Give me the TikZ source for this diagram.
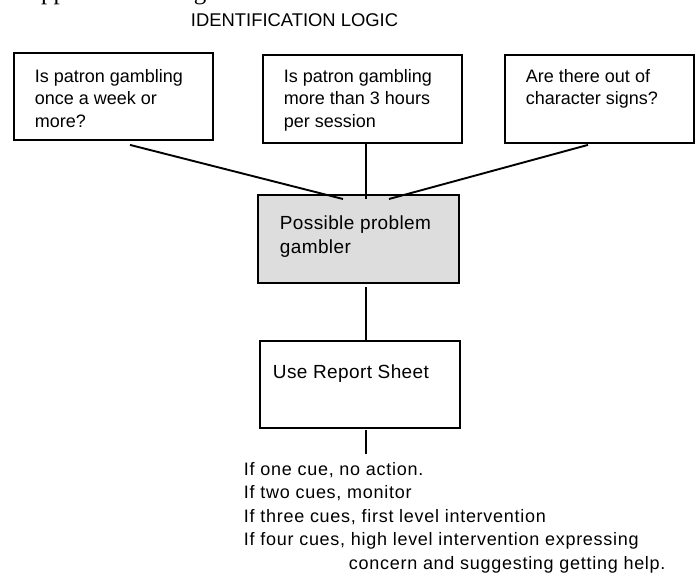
\documentclass[tikz,border=0pt]{standalone}
\usepackage{fontspec}
\setmainfont{Liberation Sans}
\newfontfamily\serifhead{Liberation Serif}
\newfontfamily\spacedA[LetterSpace=2]{Liberation Sans}
\newfontfamily\spacedB[LetterSpace=4]{Liberation Sans}
\usetikzlibrary{calc}
\definecolor{boxgray}{RGB}{221,221,221}
\newcommand{\mlines}[2]{\vtop{\baselineskip=#1\relax\lineskiplimit=-100pt #2}}
\begin{document}
\begin{tikzpicture}[x=1pt, y=-1pt, line width=1.9pt,
  qbox/.style={draw, rectangle, inner sep=0pt, anchor=north west},
  txt/.style={anchor=base west, inner sep=0pt},
  boxfont/.style={font=\fontsize{18}{22.5}\selectfont},
  bigfont/.style={font=\spacedA\fontsize{19}{24}\selectfont}]
\useasboundingbox (0,0) rectangle (696,574);
\fill[white] (0,0) rectangle (696,574);

% cropped heading (only its descenders fall inside the page)
\node[txt, font=\serifhead\fontsize{25}{28}\selectfont] (apx) at (22,-0.6) {Appendix B: Diagram};

% title
\node[txt, font=\fontsize{18.4}{22}\selectfont] (title) at (190,26) {IDENTIFICATION LOGIC};

% boxes
\node[qbox, minimum width=199pt, minimum height=87pt] (b1) at (13,52) {};
\node[qbox, minimum width=199pt, minimum height=88pt] (b2) at (262,54) {};
\node[qbox, minimum width=189pt, minimum height=88pt] (b3) at (504,54) {};
\node[qbox, fill=boxgray, minimum width=201pt, minimum height=88pt] (pg) at (257,194) {};
\node[qbox, minimum width=200pt, minimum height=87pt] (b4) at (259,340) {};

% box texts
\node[txt, boxfont] (t1) at (34,82) {\mlines{22.5pt}{\hbox{Is patron gambling}\hbox{once a week or}\hbox{more?}}};
\node[txt, boxfont] (t2) at (283,82) {\mlines{22.5pt}{\hbox{Is patron gambling}\hbox{more than 3 hours}\hbox{per session}}};
\node[txt, boxfont] (t3) at (525,82) {\mlines{22.5pt}{\hbox{Are there out of}\hbox{character signs?}}};
\node[txt, bigfont] (tpg) at (279,229) {\mlines{24pt}{\hbox{Possible problem}\hbox{gambler}}};
\node[txt, bigfont] (t4) at (272,378) {Use Report Sheet};

% bottom text
\node[txt, font=\spacedB\fontsize{18}{23.5}\selectfont] (cues) at (243,475) {\mlines{23.5pt}{%
  \hbox{If one cue, no action.}%
  \hbox{If two cues, monitor}%
  \hbox{If three cues, first level intervention}%
  \hbox{If four cues, high level intervention expressing}%
  \hbox{\kern105pt concern and suggesting getting help.}}};

% connector end points
\coordinate (l1a) at ($(b1.south west)+(117,4)$);
\coordinate (l1b) at ($(pg.north west)+(86,5)$);
\coordinate (l2a) at ($(b2.south west)+(104,0)$);
\coordinate (l2b) at ($(pg.north west)+(109,5)$);
\coordinate (l3a) at ($(b3.south west)+(84,1)$);
\coordinate (l3b) at ($(pg.north west)+(132,5)$);
\coordinate (l4a) at ($(pg.south west)+(109,3)$);
\coordinate (l4b) at ($(b4.north west)+(107,0)$);
\coordinate (l5a) at ($(b4.south west)+(107,1)$);
\coordinate (l5b) at ($(b4.south west)+(107,25)$);

\draw (l1a) -- (l1b);
\draw (l2a) -- (l2b);
\draw (l3a) -- (l3b);
\draw (l4a) -- (l4b);
\draw (l5a) -- (l5b);
\end{tikzpicture}
\end{document}
